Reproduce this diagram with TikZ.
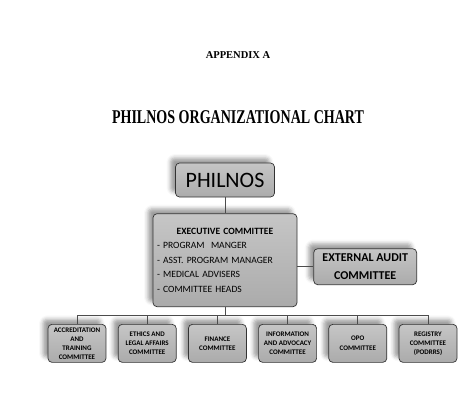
\documentclass[tikz,border=0pt]{standalone}
\usepackage{fontspec}
\setmainfont{Carlito}
\newfontfamily\timesfont{Liberation Serif}
\usetikzlibrary{positioning,shadows.blur}

\begin{document}
\begin{tikzpicture}
      [x=1pt, y=-1pt,
      orgbox/.style={draw=black!80, line width=0.7pt, rounded corners=4pt,
        top color=gray!45, bottom color=gray!66,
        blur shadow={shadow xshift=-5pt, shadow yshift=5pt,
          shadow blur radius=4pt, shadow opacity=38}},
      topbox/.style={orgbox, minimum width=99pt, minimum height=34pt,
        inner sep=0pt, font=\fontsize{22}{24}\selectfont},
      execbox/.style={orgbox, minimum height=93pt, text width=136pt,
        inner sep=4pt, align=left, font=\fontsize{9.6}{14.5}\selectfont},
      extbox/.style={orgbox, minimum width=103pt, minimum height=36pt,
        inner sep=0pt, align=center, font=\fontsize{12}{18}\selectfont\bfseries},
      unitbox/.style={orgbox, minimum width=58pt, minimum height=38pt,
        inner sep=2pt, align=center, font=\fontsize{7}{9}\selectfont\bfseries},
      link/.style={draw=black!70, line width=0.8pt}]
      \useasboundingbox (0,0) rectangle (475,416);
      \node[font=\timesfont\bfseries\fontsize{10.5}{12}\selectfont] (appx) at (238,55) {APPENDIX A};
      \node[font=\timesfont\bfseries\fontsize{19.5}{21}\selectfont] (title) at (238,117)
        {\scalebox{0.72}[1]{PHILNOS ORGANIZATIONAL CHART}};
      \node[topbox] (philnos) at (225,180) {PHILNOS};
      \node[execbox, below=16pt of philnos] (exec)
        {\makebox[136pt][c]{\bfseries EXECUTIVE COMMITTEE}\\
         - PROGRAM\ \ MANGER\\
         - ASST. PROGRAM MANAGER\\
         - MEDICAL ADVISERS\\
         - COMMITTEE HEADS};
      \node[extbox, right=16pt of exec, yshift=-6.5pt] (ext) {EXTERNAL AUDIT\\COMMITTEE};
      \node[unitbox, anchor=north] (acc) at (77,324) {ACCREDITATION\\AND\\TRAINING\\COMMITTEE};
      \node[unitbox, right=11.5pt of acc.north east, anchor=north west] (ethics)
        {ETHICS AND\\LEGAL AFFAIRS\\COMMITTEE};
      \node[unitbox, right=11.5pt of ethics.north east, anchor=north west] (finance)
        {FINANCE\\COMMITTEE};
      \node[unitbox, right=11.5pt of finance.north east, anchor=north west] (info)
        {INFORMATION\\AND ADVOCACY\\COMMITTEE};
      \node[unitbox, right=11.5pt of info.north east, anchor=north west] (opo)
        {OPO\\[1.5pt]COMMITTEE};
      \node[unitbox, right=11.5pt of opo.north east, anchor=north west] (registry)
        {REGISTRY\\COMMITTEE\\(PODRRS)};
      \coordinate[below=8pt of exec.south] (bus);
      \draw[link] (philnos) -- (exec);
      \draw[link] (exec.east |- ext.west) -- (ext.west);
      \draw[link] (exec.south) -- (bus);
      \draw[link] (bus -| acc.north) -- (bus -| registry.north);
      \foreach \unit in {acc,ethics,finance,info,opo,registry}
        \draw[link] (bus -| \unit.north) -- (\unit.north);
    \end{tikzpicture}
\end{document}
